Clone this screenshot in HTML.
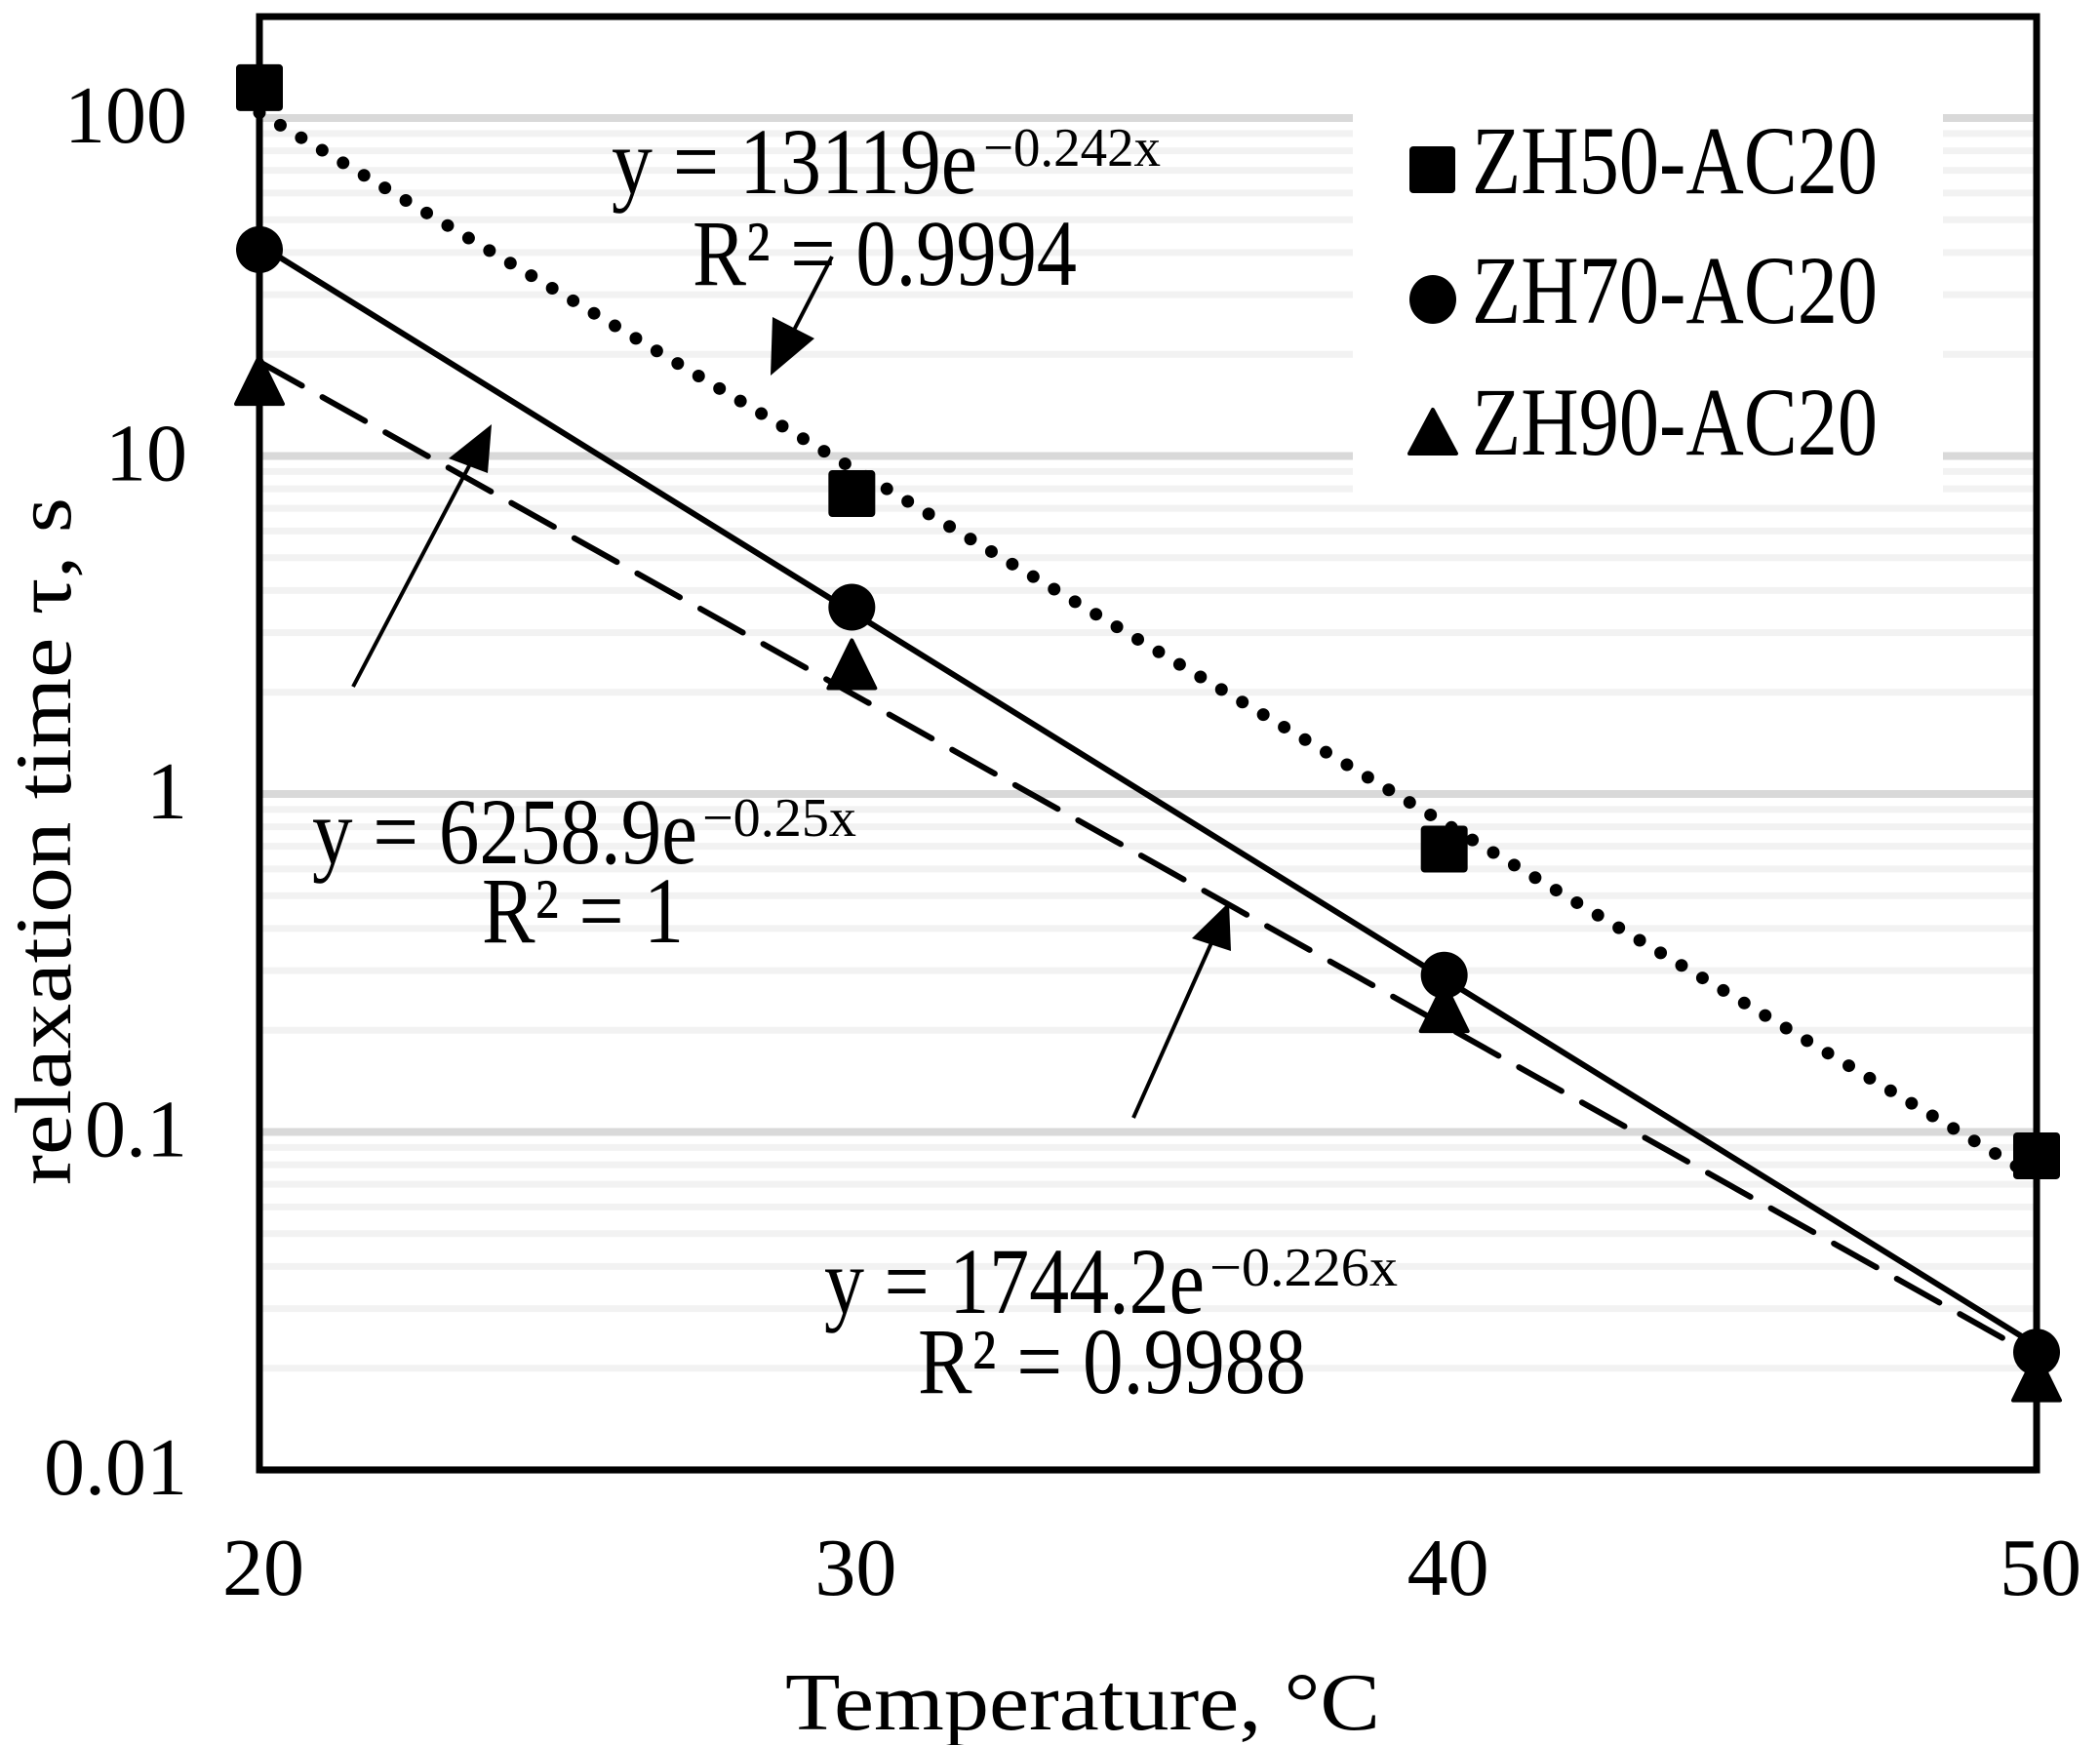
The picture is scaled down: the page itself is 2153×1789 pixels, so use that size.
<!DOCTYPE html>
<html><head><meta charset="utf-8"><style>
html,body{margin:0;padding:0;background:#fff;}
svg{display:block;font-family:"Liberation Serif",serif;}
</style></head><body>
<svg id="chart" width="2153" height="1789" viewBox="0 0 2153 1789" xmlns="http://www.w3.org/2000/svg">
<g id="grid"></g>
<rect x="1387" y="108" width="605" height="400" fill="#fff"/>
<g id="trend"></g>
<g id="marks"></g>
<rect x="266" y="17" width="1822" height="1490" fill="none" stroke="#000" stroke-width="7"/>
<g id="ticks" font-size="84"></g>
<text x="805" y="1773" font-size="84" textLength="610" lengthAdjust="spacingAndGlyphs">Temperature,   °C</text>
<text transform="translate(72,1215) rotate(-90)" font-size="82" textLength="705" lengthAdjust="spacingAndGlyphs">relaxation time τ,   s</text>
<g font-size="100">
 <g>
  <rect x="1445" y="150" width="47" height="48" rx="4" fill="#000"/>
  <text x="1509" y="198" textLength="416" lengthAdjust="spacingAndGlyphs">ZH50-AC20</text></g>
 <g>
  <ellipse cx="1469" cy="307" rx="24" ry="25" fill="#000"/>
  <text x="1509" y="331" textLength="416" lengthAdjust="spacingAndGlyphs">ZH70-AC20</text></g>
 <g>
  <polygon points="1469,420 1493,465 1445,465" fill="#000" stroke="#000" stroke-linejoin="round" stroke-width="4"/>
  <text x="1509" y="466" textLength="416" lengthAdjust="spacingAndGlyphs">ZH90-AC20</text></g>
</g>
<g>
 <g>
  <text x="627" y="198" font-size="96" textLength="375" lengthAdjust="spacingAndGlyphs">y = 13119e</text>
  <text x="1008" y="170" font-size="56" textLength="182" lengthAdjust="spacingAndGlyphs">−0.242x</text></g>
 <text x="710" y="292" font-size="96" textLength="394" lengthAdjust="spacingAndGlyphs">R² = 0.9994</text>
 <g>
  <text x="320" y="885" font-size="96" textLength="395" lengthAdjust="spacingAndGlyphs">y = 6258.9e</text>
  <text x="720" y="857" font-size="56" textLength="158" lengthAdjust="spacingAndGlyphs">−0.25x</text></g>
 <text x="494" y="966" font-size="96" textLength="207" lengthAdjust="spacingAndGlyphs">R² = 1</text>
 <g>
  <text x="845" y="1346" font-size="96" textLength="390" lengthAdjust="spacingAndGlyphs">y = 1744.2e</text>
  <text x="1240" y="1318" font-size="56" textLength="193" lengthAdjust="spacingAndGlyphs">−0.226x</text></g>
 <text x="941" y="1428" font-size="96" textLength="398" lengthAdjust="spacingAndGlyphs">R² = 0.9988</text>
 <g><line x1="853" y1="263" x2="808" y2="350" stroke="#000" stroke-width="4"/><polygon points="790,385 792,325 835,347" fill="#000"/></g>
 <g><line x1="362" y1="704" x2="485" y2="470" stroke="#000" stroke-width="4"/><polygon points="504,435 460,470 500,485" fill="#000"/></g>
 <g><line x1="1162" y1="1146" x2="1245" y2="960" stroke="#000" stroke-width="4"/><polygon points="1260,925 1222,962 1262,975" fill="#000"/></g>
</g>
</svg>
<script>
const categories=[20,30,40,50];
const zh50=[123,7.74,0.687,0.085];
const zh70=[40.8,3.57,0.291,0.0223];
const zh90=[16.5,2.38,0.23,0.0186];
const fitA=[13119,6258.9,1744.2];
const fitB=[-0.242,-0.25,-0.226];
const yTicks=[100,10,1,0.1,0.01];
const yTickLabels=["100","10","1","0.1","0.01"];
const xTickLabels=["20","30","40","50"];

const NS="http://www.w3.org/2000/svg";
const X0=266,X1=2088,Y0=1507,Y1=121;
function xs(v){return X0+(v-20)/(50-20)*(X1-X0);}
function ys(v){return Y0-(Math.log10(v)-(-2))/(2-(-2))*(Y0-Y1);}
function mk(tag,attrs,parent){const e=document.createElementNS(NS,tag);for(const k in attrs)e.setAttribute(k,attrs[k]);parent.appendChild(e);return e;}

const grid=document.getElementById('grid');
for(let d=-2;d<=2;d++){
  for(let m=1;m<=9;m++){
    const v=m*Math.pow(10,d);
    if(v>100.0001)continue;
    const y=ys(v);
    const ln=mk('line',{x1:X0,x2:X1,y1:y,y2:y,stroke:m===1?'#d9d9d9':'#f2f2f2','stroke-width':m===1?8:7},grid);
    
    
  }
}
const ticks=document.getElementById('ticks');
yTicks.forEach((v,i)=>{
  const t=mk('text',{x:192,y:ys(v)+25,'text-anchor':'end'},ticks);
  t.textContent=yTickLabels[i];
  
  
});
categories.forEach((c,i)=>{
  const t=mk('text',{x:xs(c)+4,y:1635,'text-anchor':'middle'},ticks);
  t.textContent=xTickLabels[i];
  
  
});
const trend=document.getElementById('trend');
const styles=[{da:'0 25',w:13,n:'trendline-zh50'},{da:'none',w:6,n:'trendline-zh70'},{da:'50 24',w:6,n:'trendline-zh90'}];
fitA.forEach((a,i)=>{
  const x1=20,x2=50;
  const p=mk('line',{x1:xs(x1),y1:ys(a*Math.exp(fitB[i]*x1)),x2:xs(x2),y2:ys(a*Math.exp(fitB[i]*x2)),stroke:'#000','stroke-width':styles[i].w,'stroke-linecap':'round','stroke-dasharray':styles[i].da},trend);
  
  
});
const marks=document.getElementById('marks');
categories.forEach((c,i)=>{
  const x=xs(c);
  let y=ys(zh90[i]);
  const tri=mk('polygon',{points:`${x},${y-27} ${x+24},${y+22} ${x-24},${y+22}`,fill:'#000',stroke:'#000','stroke-width':4,'stroke-linejoin':'round'},marks);
  
  
  y=ys(zh70[i]);
  const ci=mk('circle',{cx:x,cy:y,r:24,fill:'#000'},marks);
  
  
  y=ys(zh50[i]);
  const sq=mk('rect',{x:x-24,y:y-24,width:48,height:48,rx:4,fill:'#000'},marks);
  
  
});
</script>
</body></html>
